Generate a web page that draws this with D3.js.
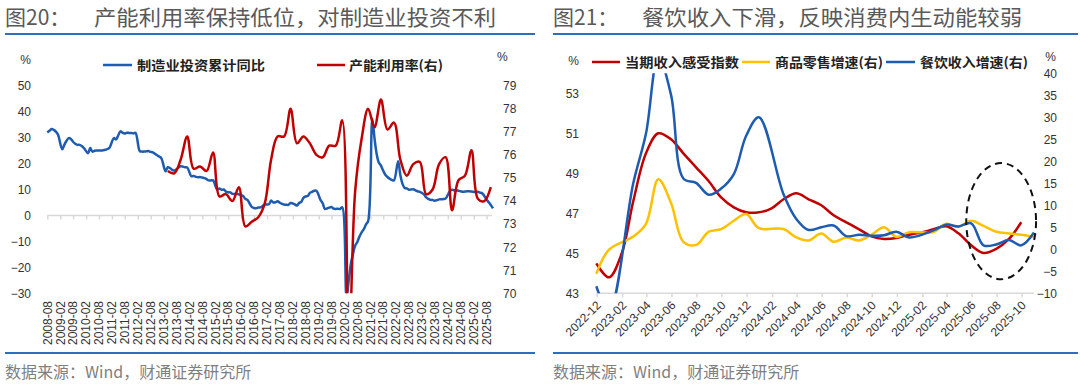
<!DOCTYPE html>
<html>
<head>
<meta charset="utf-8">
<script src="https://cdn.jsdelivr.net/npm/d3@7"></script>
<style>
  body { margin: 0; background: #fff; }
  svg { display: block; }
  text { font-family: "Liberation Sans", Arial, sans-serif; }
  .cjk { font-family: "Noto Sans CJK SC", sans-serif; }
</style>
</head>
<body>
<svg width="1080" height="386"></svg>
<script>
// ---------- 图20 data ----------
const mfgStart = '2008-07';   // 制造业投资累计同比, monthly, January merged into February
const mfgInvest = [
  32.0, 32.6, 33.3, 33.0, 32.3, 31.1,
  null, 25.5, 27.3, 28.8, 29.8, 29.5, 28.4, 27.6, 27.2, 27.2, 26.8, 26.0,
  null, 24.0, 26.0, 24.6, 24.9, 25.0, 25.0, 25.0, 25.1, 25.3, 25.6, 26.2,
  null, 29.8, 29.3, 30.8, 32.4, 31.9, 31.6, 31.9, 31.8, 31.8, 31.6, 31.8,
  null, 24.8, 24.6, 24.6, 24.7, 24.8, 24.5, 24.3, 23.8, 23.2, 22.7, 22.0,
  null, 17.0, 18.6, 18.3, 17.6, 17.3, 17.8, 18.5, 19.0, 18.8, 18.6, 18.5,
  null, 15.1, 15.2, 14.9, 14.7, 14.8, 14.6, 14.4, 14.0, 13.5, 13.5, 13.5,
  null, 10.0, 10.4, 9.9, 10.0, 9.2, 8.9, 8.9, 8.3, 8.3, 8.4, 8.1,
  null, 7.5, 6.4, 6.0, 4.6, 3.3, 2.9, 2.8, 3.1, 3.1, 3.6, 4.2,
  null, 4.3, 5.8, 5.0, 5.1, 5.5, 4.9, 4.5, 4.2, 4.1, 4.1, 4.8,
  null, 4.3, 3.8, 4.8, 5.2, 6.8, 7.3, 7.5, 8.7, 9.1, 9.5, 9.5,
  null, 5.9, 4.6, 2.5, 2.7, 3.0, 3.3, 2.6, 2.5, 2.6, 2.5, 3.1,
  null, -31.5, -25.2, -18.8, -14.8, -11.7, -10.2, -8.1, -6.5, -5.3, -3.5, -2.2,
  null, 37.3, 29.8, 23.8, 20.4, 19.2, 17.3, 15.7, 14.8, 14.2, 13.7, 13.5,
  null, 20.9, 15.6, 12.2, 10.6, 10.4, 9.9, 10.0, 10.1, 9.7, 9.3, 9.1,
  null, 8.1, 7.0, 6.4, 6.0, 6.0, 5.7, 5.9, 6.2, 6.2, 6.3, 6.5,
  null, 9.4, 9.9, 9.7, 9.6, 9.5, 9.3, 9.1, 9.2, 9.3, 9.3, 9.2,
  null, 9.0, 9.1, 8.8, 8.5, 7.5, 6.2, 5.1, 4.0, 2.7
];
const capStart = '2013-03';   // 产能利用率, quarterly
const capUtil = [
  75.3, 75.2, 75.8, 76.8,
  75.4, 75.5, 75.3, 76.1,
  74.2, 74.3, 74.0, 74.6,
  72.9, 73.1, 73.3, 73.9,
  75.8, 76.8, 76.8, 78.0,
  76.5, 76.8, 76.5, 76.0,
  75.9, 76.4, 76.4, 77.5,
  67.3, 74.4, 76.7, 78.0,
  77.2, 78.4, 77.1, 77.4,
  75.8, 75.1, 75.6, 75.7,
  74.3, 74.5, 75.6, 75.9,
  73.6, 74.9, 75.1, 76.2,
  74.1, 74.0, 74.6
];
const leftTicks1 = [-30, -20, -10, 0, 10, 20, 30, 40, 50];
const rightTicks1 = [70, 71, 72, 73, 74, 75, 76, 77, 78, 79];
const xTicks1 = ['2008-08','2009-02','2009-08','2010-02','2010-08','2011-02','2011-08','2012-02','2012-08',
  '2013-02','2013-08','2014-02','2014-08','2015-02','2015-08','2016-02','2016-08','2017-02','2017-08',
  '2018-02','2018-08','2019-02','2019-08','2020-02','2020-08','2021-02','2021-08','2022-02','2022-08',
  '2023-02','2023-08','2024-02','2024-08','2025-02','2025-08'];

// ---------- 图21 data ----------
const rightStart = '2022-11';
const incomeIndex = [44.5, 43.8, 45.0, 47.6, 50.0, 51.0, 50.7, 50.0, 49.3, 48.6, 47.8, 47.3,
  47.05, 47.05, 47.25, 47.7, 48.0, 47.7, 47.4, 46.9, 46.55, 46.2, 45.85, 45.72,
  45.77, 45.93, 46.05, 46.2, 46.35, 46.0, 45.4, 45.02, 45.22, 45.72, 46.55];
const goodsRetail = [-5.6, -0.1, null, 2.9, 5.8, 15.9, 10.5, 1.7, 1.0, 4.0, 4.6, 6.5,
  8.0, 4.8, null, 4.6, 2.7, 2.0, 3.6, 1.7, 2.7, 2.0, 3.3, 5.0,
  2.8, 3.9, null, 3.9, 5.8, 5.1, 6.5, 5.3, 4.0, 3.6, 3.3, 2.8];
const cateringRev = [-8.4, -14.1, null, 15.0, 26.3, 43.8, 35.1, 16.1, 15.1, 12.4, 13.8, 17.1,
  25.8, 30.0, null, 12.5, 6.9, 4.4, 5.0, 5.4, 3.0, 3.3, 3.1, 3.2,
  4.0, 2.7, null, 4.3, 5.6, 5.2, 5.9, 0.9, 1.1, 2.1, 0.9, 3.8];
const leftTicks2 = [43, 45, 47, 49, 51, 53];
const rightTicks2 = [-10, -5, 0, 5, 10, 15, 20, 25, 30, 35, 40];
const xTicks2 = ['2022-12','2023-02','2023-04','2023-06','2023-08','2023-10','2023-12','2024-02','2024-04',
  '2024-06','2024-08','2024-10','2024-12','2025-02','2025-04','2025-06','2025-08','2025-10'];
const circleNote = { date: '2025-08-12', value: 6.4, halfDays: 85, halfValue: 13.2 };

const BLUE = '#1d5cb0', RED = '#c00000', YELLOW = '#ffc000', AXIS = '#d9d9d9';

function monthEnd(str, offset) {
  const [y, m] = str.split('-').map(Number);
  return new Date(y, m + offset, 0);
}
function firstOfMonth(str) {
  const [y, m] = str.split('-').map(Number);
  return new Date(y, m - 1, 1);
}
function series(start, values, step) {
  return values.map((v, i) => ({ date: monthEnd(start, i * step), value: v }))
    .filter(d => d.value != null);
}

const svg = d3.select('svg');

// ---------- frame: titles, rules, source ----------
[[5, 94, '图20：', '产能利用率保持低位，对制造业投资不利', 402, 535],
 [553, 642, '图21：', '餐饮收入下滑，反映消费内生动能较弱', 380, 1078]].forEach(([x0, x1, num, title, tlen, xe]) => {
  svg.append('text').attr('class', 'cjk').attr('x', x0).attr('y', 25)
    .attr('font-size', 21).attr('fill', '#595959').text(num);
  svg.append('text').attr('class', 'cjk').attr('x', x1).attr('y', 25)
    .attr('font-size', 21).attr('fill', '#595959')
    .attr('textLength', tlen).attr('lengthAdjust', 'spacingAndGlyphs').text(title);
  svg.append('line').attr('x1', x0).attr('x2', xe).attr('y1', 34).attr('y2', 34)
    .attr('stroke', '#2f6eba').attr('stroke-width', 2);
  svg.append('line').attr('x1', x0).attr('x2', xe).attr('y1', 353).attr('y2', 353)
    .attr('stroke', '#2f6eba').attr('stroke-width', 2);
  svg.append('text').attr('class', 'cjk').attr('x', x0).attr('y', 378)
    .attr('font-size', 16).attr('fill', '#7f7f7f').text('数据来源：Wind，财通证券研究所');
});

function legendItem(g, x1, x2, y, color, tx, tlen, label) {
  g.append('line').attr('x1', x1).attr('x2', x2).attr('y1', y).attr('y2', y)
    .attr('stroke', color).attr('stroke-width', 2.5);
  g.append('text').attr('class', 'cjk').attr('x', tx).attr('y', y).attr('dy', '0.37em')
    .attr('font-size', 13).attr('font-weight', 'bold').attr('fill', '#222')
    .attr('textLength', tlen).attr('lengthAdjust', 'spacingAndGlyphs').text(label);
}

function axisStyle(g) {
  g.select('.domain').remove();
  g.selectAll('text').attr('fill', '#333').attr('font-size', 12)
    .attr('font-family', '"Liberation Sans", Arial, sans-serif');
}

const smooth = d3.curveCatmullRom.alpha(0.5);

// ---------- 图20 ----------
{
  const top = 85.7, bottom = 293.3;
  const x = d3.scaleTime().domain([new Date(2008, 7, 1), new Date(2025, 9, 31)]).range([47.3, 493]);
  const yL = d3.scaleLinear().domain([-30, 50]).range([bottom, top]);
  const yR = d3.scaleLinear().domain([70, 79]).range([bottom, top]);
  const g = svg.append('g');

  g.append('clipPath').attr('id', 'clip1').append('rect')
    .attr('x', 40).attr('y', top - 10).attr('width', 470).attr('height', bottom - top + 10);

  // zero line with ticks
  const tickDates = xTicks1.map(firstOfMonth);
  g.append('line').attr('x1', x.range()[0]).attr('x2', x.range()[1] - 1)
    .attr('y1', yL(0)).attr('y2', yL(0)).attr('stroke', AXIS).attr('stroke-width', 1.5);
  g.append('g').attr('transform', `translate(0,${yL(0)})`)
    .call(d3.axisBottom(x).tickValues(tickDates).tickSize(4).tickFormat(''))
    .call(a => { a.select('.domain').remove(); a.selectAll('line').attr('stroke', AXIS).attr('stroke-width', 1.5); });

  // low labels
  g.selectAll('.xl').data(xTicks1).join('text')
    .attr('transform', d => `translate(${x(firstOfMonth(d))},301) rotate(-90)`)
    .attr('dy', '0.35em').attr('text-anchor', 'end')
    .attr('font-size', 12).attr('fill', '#333').text(d => d);

  g.append('g').attr('transform', 'translate(31,0)')
    .call(d3.axisLeft(yL).tickValues(leftTicks1).tickSize(0).tickPadding(0)).call(axisStyle);
  g.append('g').attr('transform', 'translate(503,0)')
    .call(d3.axisRight(yR).tickValues(rightTicks1).tickSize(0).tickPadding(0)).call(axisStyle);
  g.append('text').attr('x', 31).attr('y', 60).attr('dy', '0.35em').attr('text-anchor', 'end')
    .attr('font-size', 12).attr('fill', '#333').text('%');
  g.append('text').attr('x', 497).attr('y', 57).attr('dy', '0.35em')
    .attr('font-size', 12).attr('fill', '#333').text('%');

  const lines = g.append('g').attr('clip-path', 'url(#clip1)');
  lines.append('path').datum(series(mfgStart, mfgInvest, 1))
    .attr('fill', 'none').attr('stroke', BLUE).attr('stroke-width', 2.5).attr('stroke-linejoin', 'round')
    .attr('d', d3.line().x(d => x(d.date)).y(d => yL(d.value)).curve(smooth));
  lines.append('path').datum(series(capStart, capUtil, 3))
    .attr('fill', 'none').attr('stroke', RED).attr('stroke-width', 2.5).attr('stroke-linejoin', 'round')
    .attr('d', d3.line().x(d => x(d.date)).y(d => yR(d.value)).curve(smooth));

  legendItem(g, 103, 132, 65, BLUE, 137, 128, '制造业投资累计同比');
  legendItem(g, 317, 345, 65, RED, 349, 94, '产能利用率(右)');
}

// ---------- 图21 ----------
{
  const top = 73.3, bottom = 293.3;
  const x = d3.scaleTime().domain([new Date(2022, 10, 30), new Date(2025, 9, 31)]).range([596.3, 1034]);
  const yL = d3.scaleLinear().domain([43, 54]).range([bottom, top]);
  const yR = d3.scaleLinear().domain([-10, 40]).range([bottom, top]);
  const g = svg.append('g');

  g.append('clipPath').attr('id', 'clip2').append('rect')
    .attr('x', 580).attr('y', top).attr('width', 470).attr('height', bottom - top);

  const tickDates = xTicks2.map(firstOfMonth);
  g.append('line').attr('x1', x.range()[0]).attr('x2', x.range()[1])
    .attr('y1', bottom).attr('y2', bottom).attr('stroke', AXIS).attr('stroke-width', 1.5);
  g.append('g').attr('transform', `translate(0,${bottom})`)
    .call(d3.axisBottom(x).tickValues(tickDates).tickSize(4).tickFormat(''))
    .call(a => { a.select('.domain').remove(); a.selectAll('line').attr('stroke', AXIS).attr('stroke-width', 1.5); });
  g.selectAll('.xl').data(xTicks2).join('text')
    .attr('transform', d => `translate(${x(firstOfMonth(d)) + 5},306) rotate(-45)`)
    .attr('text-anchor', 'end').attr('font-size', 12).attr('fill', '#333').text(d => d);

  g.append('g').attr('transform', 'translate(579,0)')
    .call(d3.axisLeft(yL).tickValues(leftTicks2).tickSize(0).tickPadding(0)).call(axisStyle);
  g.append('g').attr('transform', 'translate(1057,0)')
    .call(d3.axisLeft(yR).tickValues(rightTicks2).tickSize(0).tickPadding(0)).call(axisStyle);
  g.append('text').attr('x', 579).attr('y', 61).attr('dy', '0.35em').attr('text-anchor', 'end')
    .attr('font-size', 12).attr('fill', '#333').text('%');
  g.append('text').attr('x', 1056).attr('y', 57).attr('dy', '0.35em').attr('text-anchor', 'end')
    .attr('font-size', 12).attr('fill', '#333').text('%');

  const lines = g.append('g').attr('clip-path', 'url(#clip2)');
  lines.append('path').datum(series(rightStart, incomeIndex, 1))
    .attr('fill', 'none').attr('stroke', RED).attr('stroke-width', 2.5)
    .attr('d', d3.line().x(d => x(d.date)).y(d => yL(d.value)).curve(smooth));
  lines.append('path').datum(series(rightStart, goodsRetail, 1))
    .attr('fill', 'none').attr('stroke', YELLOW).attr('stroke-width', 2.5)
    .attr('d', d3.line().x(d => x(d.date)).y(d => yR(d.value)).curve(smooth));
  lines.append('path').datum(series(rightStart, cateringRev, 1))
    .attr('fill', 'none').attr('stroke', BLUE).attr('stroke-width', 2.5)
    .attr('d', d3.line().x(d => x(d.date)).y(d => yR(d.value)).curve(smooth));

  // dashed circle around the latest months
  const cd = new Date(circleNote.date);
  const cx = x(cd), cy = yR(circleNote.value);
  g.append('ellipse').attr('cx', cx).attr('cy', cy)
    .attr('rx', x(d3.timeDay.offset(cd, circleNote.halfDays)) - cx)
    .attr('ry', yR(circleNote.value - circleNote.halfValue) - cy)
    .attr('fill', 'none').attr('stroke', '#111').attr('stroke-width', 2).attr('stroke-dasharray', '7,5');

  legendItem(g, 592, 620, 62, RED, 625, 114, '当期收入感受指数');
  legendItem(g, 742, 770, 62, YELLOW, 775, 108, '商品零售增速(右)');
  legendItem(g, 886, 915, 62, BLUE, 920, 108, '餐饮收入增速(右)');
}
</script>
</body>
</html>
